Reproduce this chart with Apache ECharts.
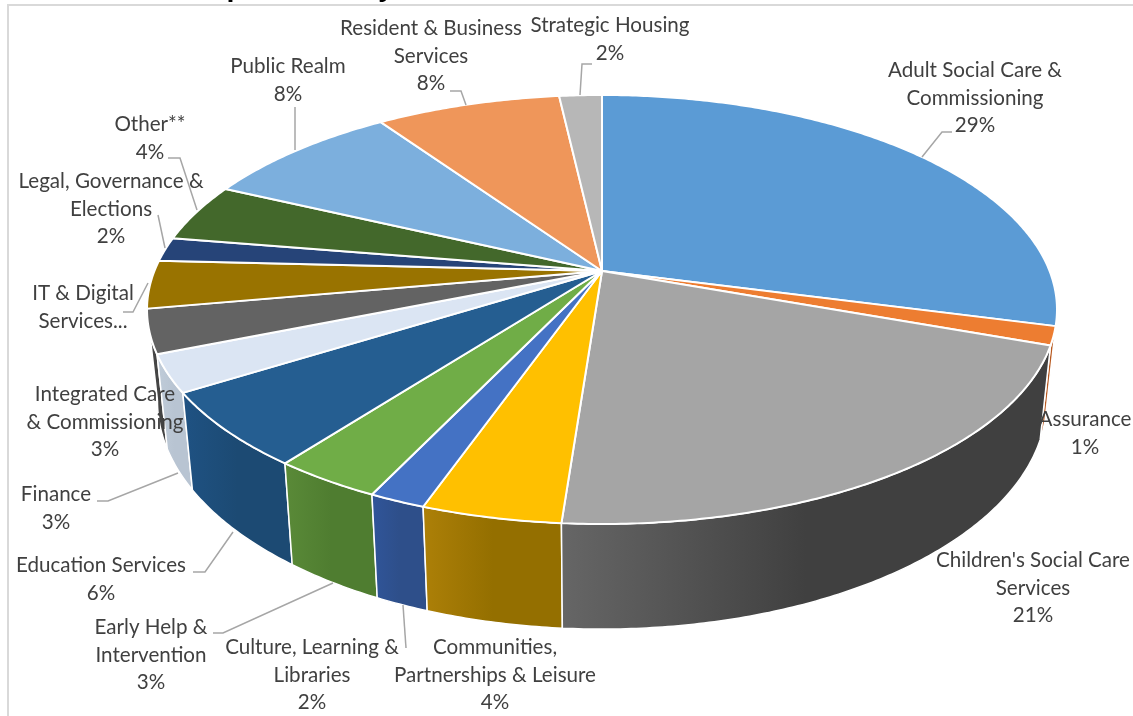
<!DOCTYPE html>
<html>
<head>
<meta charset="utf-8">
<style>html,body{margin:0;padding:0;background:#fff}#c{width:1133px;height:716px}</style>
<script src="https://cdn.jsdelivr.net/npm/echarts@6/dist/echarts.min.js"></script>
</head>
<body>
<div id="c"></div>
<script>
const categories = ["Adult Social Care & Commissioning","Assurance","Children's Social Care Services","Communities, Partnerships & Leisure","Culture, Learning & Libraries","Early Help & Intervention","Education Services","Finance","Integrated Care & Commissioning","IT & Digital Services","Legal, Governance & Elections","Other**","Public Realm","Resident & Business Services","Strategic Housing"];
const shares = [29.07,1.4,20.7,4.2,1.7,3.3,5.7,2.8,3.3,3.6,1.8,4.4,8.4,7.8,1.8];
const labelTexts = ["Adult Social Care &\nCommissioning\n29%","Assurance\n1%","Children's Social Care\nServices\n21%","Communities,\nPartnerships & Leisure\n4%","Culture, Learning &\nLibraries\n2%","Early Help &\nIntervention\n3%","Education Services\n6%","Finance\n3%","Integrated Care\n& Commissioning\n3%","IT & Digital\nServices...","Legal, Governance &\nElections\n2%","Other**\n4%","Public Realm\n8%","Resident & Business\nServices\n8%","Strategic Housing\n2%"];
const titleText = "Expenditure by";
const topColors = ["#5b9bd5","#ed7d31","#a5a5a5","#ffc000","#4472c4","#70ad47","#255e91","#dbe5f3","#636363","#997300","#264478","#43682b","#7cafdd","#ef965a","#b7b7b7"];
const wallLeft = ["#3f78ad","#b8591f","#666666","#ad8008","#30559a","#5a8a38","#1f5283","#c0ccd9","#4a4a4a","#6f5400","#1b3156","#2f4a1f","#5b8cba","#c4733f","#8c8c8c"];
const wallRight = ["#3f78ad","#b8591f","#404040","#946f00","#2e4f8a","#4f7d30","#1c4a73","#b8c4d2","#444444","#6f5400","#1b3156","#2f4a1f","#5b8cba","#c4733f","#8c8c8c"];

// projection of the tilted disc
const view = {cx:602, cy:271, rx:447.6, ry:207.6, persp:0.1795, shrink:0.977, drop:89.5, stretch:0.0615};
// label anchor (centre x, top y) and leader lines, per category
const labelPos = [[975,57],[1085,406],[1033,547],[495,634],[312,634],[151,614],[101,552],[56,481],[105,381],[83,280],[111,168],[150,111],[288,53],[431,15],[610,12]];
const leaders = [
 [[922,157],[942,132],[952,132]],null,null,null,
 [[403,605],[406,648]],
 [[333,583],[223,633],[213,633]],
 [[233,532],[205,572],[193,572]],
 [[178,473],[108,501],[97,501]],
 null,
 [[148,283],[133,312],[123,312]],
 [[165,248],[158,215]],
 [[197,210],[180,158],[168,158]],
 [[295,150],[295,107]],
 [[466,105],[461,91],[450,91]],
 [[580,95],[582,64],[592,64]]
];

const total = shares.reduce((a,b)=>a+b,0);
const starts = [];
shares.reduce((acc,s,i)=>{starts[i]=acc;return acc+s;},0);
const ang = p => p/total*2*Math.PI;
function topPoint(t){
  const u=Math.sin(t), v=-Math.cos(t), w=1-view.persp*v;
  return [view.cx+view.rx*u/w, view.cy+view.ry*v/w];
}
function lowPoint(p){
  return [view.cx+(p[0]-view.cx)*view.shrink, p[1]+view.drop+(p[1]-view.cy)*view.stretch];
}
function arc(i){
  const a=ang(starts[i]), b=ang(starts[i]+shares[i]);
  const n=Math.max(4,Math.ceil((b-a)/0.01)), pts=[];
  for(let k=0;k<=n;k++) pts.push(topPoint(a+(b-a)*k/n));
  return pts;
}
function frontness(i){
  const pts=arc(i);
  return Math.max(...pts.map(p=>p[1]));
}
const wallOrder = shares.map((_,i)=>i).sort((a,b)=>frontness(a)-frontness(b));

function renderWall(params,api){
  const i=api.value(0), top=arc(i), low=top.map(lowPoint).reverse();
  return {type:'polygon',shape:{points:top.concat(low)},
    style:{fill:new echarts.graphic.LinearGradient(0,0,1,0,[
      {offset:0,color:wallLeft[i]},{offset:0.5,color:wallRight[i]},{offset:1,color:wallRight[i]}]),
      stroke:'#fff',lineWidth:1.5,lineJoin:'round'}};
}
function renderTop(params,api){
  const i=api.value(0);
  return {type:'polygon',shape:{points:[[view.cx,view.cy]].concat(arc(i))},
    style:{fill:topColors[i],stroke:'#fff',lineWidth:2,lineJoin:'round'}};
}
function renderLabel(params,api){
  const i=api.value(0), kids=[];
  if(leaders[i]) kids.push({type:'polyline',shape:{points:leaders[i]},style:{fill:null,stroke:'#a6a6a6',lineWidth:1.5}});
  kids.push({type:'text',style:{text:labelTexts[i],x:labelPos[i][0],y:labelPos[i][1],align:'center',verticalAlign:'top',
    font:'20.6px Lato',lineHeight:27.5,fill:'#404040'}});
  return {type:'group',children:kids};
}
const idx = shares.map((_,i)=>[i]);
const chart = echarts.init(document.getElementById('c'),null,{renderer:'canvas'});
chart.setOption({
  animation:false,
  backgroundColor:'#fff',
  graphic:[
    {type:'rect',silent:true,z:-1,shape:{x:8,y:5,width:1200,height:800},style:{fill:null,stroke:'#d9d9d9',lineWidth:2}},
    {type:'text',silent:true,z:-1,style:{text:titleText,x:197,y:2,align:'left',verticalAlign:'bottom',font:'bold 26px "Open Sans"',fill:'#000'}}
  ],
  series:[
    {type:'custom',name:'walls',coordinateSystem:'none',silent:true,z:2,renderItem:renderWall,data:wallOrder.map(i=>[i])},
    {type:'custom',name:'tops',coordinateSystem:'none',silent:true,z:3,renderItem:renderTop,data:idx},
    {type:'custom',name:'labels',coordinateSystem:'none',silent:true,z:4,renderItem:renderLabel,data:idx}
  ]
});
</script>
</body>
</html>
